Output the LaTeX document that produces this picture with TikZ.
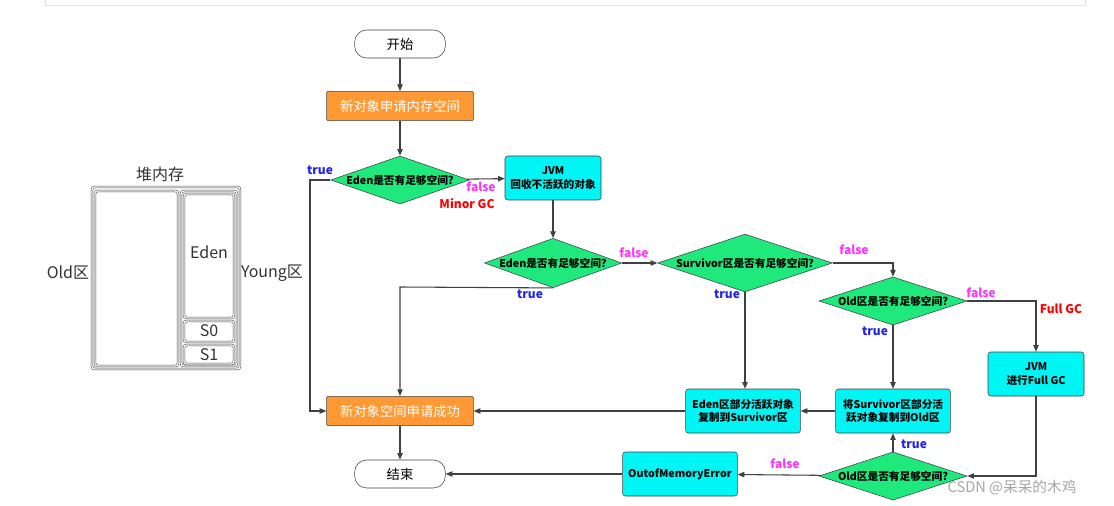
\documentclass[tikz,border=0pt]{standalone}
\usepackage{fontspec}
\setmainfont{Noto Sans CJK SC}
\usetikzlibrary{shapes.geometric,arrows.meta}
\definecolor{orng}{HTML}{FF9933}
\definecolor{grn}{HTML}{1FE87C}
\definecolor{cyn}{HTML}{00F5F5}
\definecolor{tblue}{HTML}{2222EE}
\definecolor{fmag}{HTML}{FF33FF}
\definecolor{ln}{HTML}{404040}
\begin{document}
\begin{tikzpicture}[x=0.75pt,y=-0.75pt,
  every node/.style={font=\fontsize{8}{10}\selectfont\bfseries, align=center, text=black},
  term/.style={draw=ln, rounded corners=9pt, minimum width=68pt, minimum height=21pt, font=\fontsize{10}{12}\selectfont, fill=white},
  obox/.style={draw=ln, fill=orng, minimum width=110pt, minimum height=22pt, rounded corners=1pt, font=\fontsize{10}{12}\selectfont, text=white},
  cbox/.style={draw=ln, fill=cyn, minimum width=86pt, minimum height=33pt, rounded corners=2pt},
  dia/.style={draw=ln, fill=grn, diamond, aspect=2.9, inner sep=0pt},
  arr/.style={draw=ln, line width=0.8pt, -{Triangle[length=5pt,width=4pt]}},
  tl/.style={text=tblue, font=\fontsize{9}{11}\selectfont\bfseries},
  fl/.style={text=fmag, font=\fontsize{9}{11}\selectfont\bfseries},
  rl/.style={text=red, font=\fontsize{9}{11}\selectfont\bfseries},
  hp/.style={font=\fontsize{12}{14}\selectfont, text=black!80},
  hb/.style={ln, rounded corners=2pt, double, double distance=1pt}]
\useasboundingbox (0,0) rectangle (1114,506);
\fill[white] (0,0) rectangle (1114,506);
\draw[black!12] (45,-2) rectangle (1085,5);
% heap
\draw[hb] (92,187) rectangle (240,369);
\draw[hb] (95,191) rectangle (178,366);
\draw[hb] (181,191) rectangle (237,366);
\draw[hb] (184,194) rectangle (234,318);
\draw[hb] (184,321) rectangle (234,342);
\draw[hb] (184,345) rectangle (234,364);
\node[hp] (heap) at (160,174) {堆内存};
\node[hp] (eden) at (209,252) {Eden};
\node[hp] (s0) at (209,331) {S0};
\node[hp] (s1) at (209,355) {S1};
\node[hp] (old) at (68,273) {Old区};
\node[hp] (young) at (272,273) {Young区};
% flow
\node[term] (start) at (400,44) {开始};
\node[obox] (newo) at (400,106) {新对象申请内存空间};
\node[dia, minimum width=104pt, minimum height=36pt] (d1) at (400,180) {Eden是否有足够空间?};
\node[cbox, minimum width=72pt] (jvm) at (553,178) {JVM\\回收不活跃的对象};
\node[dia, minimum width=103pt, minimum height=37pt] (d2) at (553,263) {Eden是否有足够空间?};
\node[dia, minimum width=131pt, minimum height=37pt] (d3) at (745,263) {Survivor区是否有足够空间?};
\node[dia, minimum width=111pt, minimum height=31pt] (d4) at (893,301) {Old区是否有足够空间?};
\node[cbox, minimum width=72pt] (fgc) at (1036,374) {JVM\\进行Full GC};
\node[cbox] (cp1) at (743,411) {Eden区部分活跃对象\\复制到Survivor区};
\node[cbox] (cp2) at (893,411) {将Survivor区部分活\\跃对象复制到Old区};
\node[obox] (succ) at (400,411) {新对象空间申请成功};
\node[dia, minimum width=111pt, minimum height=35pt] (d5) at (893,476) {Old区是否有足够空间?};
\node[cbox] (oom) at (680,474) {OutofMemoryError};
\node[term] (end) at (400,474) {结束};
\coordinate (c1) at (310,180);
\coordinate (c2) at (310,411);
\coordinate (c3) at (400,287);
\coordinate (c4) at (893,263);
\coordinate (c5) at (1036,301);
\coordinate (c6) at (1036,476);
\draw[arr] (start) -- (newo);
\draw[arr] (newo) -- (d1);
\draw[arr] (d1) -- (jvm);
\draw[arr] (d1.west) -- (c1) -- (c2) -- (succ.west);
\draw[arr] (jvm) -- (d2);
\draw[arr] (d2) -- (d3);
\draw[arr] (d2.south) -- (c3) -- (succ.north);
\draw[arr] (d3.south) -- (cp1.north -| d3.south);
\draw[arr] (d3.east) -- (c4) -- (d4.north);
\draw[arr] (d4.south) -- (cp2.north);
\draw[arr] (d4.east) -- (c5) -- (fgc.north);
\draw[arr] (fgc.south) -- (c6) -- (d5.east);
\draw[arr] (d5.north) -- (cp2.south);
\draw[arr] (d5) -- (oom);
\draw[arr] (oom) -- (end);
\draw[arr] (cp2) -- (cp1);
\draw[arr] (cp1) -- (succ);
\draw[arr] (succ) -- (end);
% labels
\node[tl] (t1) at (320,170) {true};
\node[fl] (f1) at (481,187) {false};
\node[rl] (mg) at (467,204) {Minor GC};
\node[fl] (f2) at (634,253) {false};
\node[tl] (t2) at (530,294) {true};
\node[tl] (t3) at (727,294) {true};
\node[fl] (f3) at (854,250) {false};
\node[tl] (t4) at (875,331) {true};
\node[fl] (f4) at (981,293) {false};
\node[rl] (fg) at (1061,309) {Full GC};
\node[tl] (t5) at (914,444) {true};
\node[fl] (f5) at (785,464) {false};
\node[font=\fontsize{11}{13}\selectfont, text=black!35] (wm) at (1012,488) {CSDN @呆呆的木鸡};
\end{tikzpicture}
\end{document}
